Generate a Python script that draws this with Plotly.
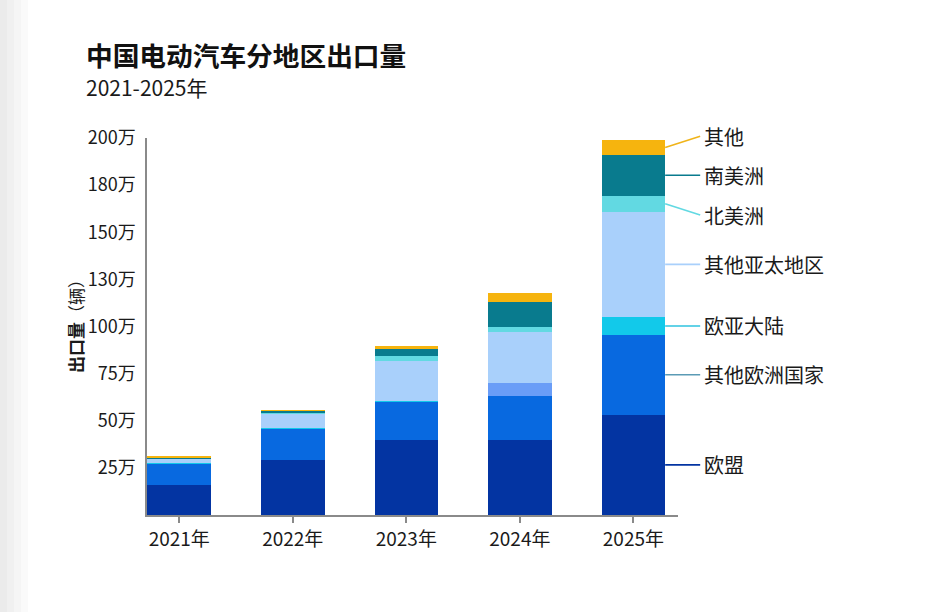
import plotly.graph_objects as go

# ---------------- data (单位：万辆) ----------------
years = ["2021年", "2022年", "2023年", "2024年", "2025年"]
eu = [16.0, 29.3, 40.0, 40.0, 53.2]
other_europe = [11.2, 16.6, 20.2, 23.2, 42.4]
eurasia = [0.3, 0.3, 0.5, 6.8, 9.4]
other_apac = [2.4, 7.8, 21.1, 26.9, 55.9]
north_america = [0.3, 0.5, 2.7, 3.0, 8.4]
south_america = [0.3, 0.8, 3.7, 13.3, 21.8]
others = [0.5, 0.4, 1.2, 4.6, 7.6]

series_names = ["欧盟", "其他欧洲国家", "欧亚大陆", "其他亚太地区", "北美洲", "南美洲", "其他"]
series_values = [eu, other_europe, eurasia, other_apac, north_america, south_america, others]
series_colors = [
    "#0334a2",
    "#0869e0",
    ["#12c9ea", "#12c9ea", "#12c9ea", "#6a9df7", "#12c9ea"],
    "#a9d0fb",
    "#62d9e2",
    "#097b8e",
    "#f6b40e",
]
line_colors = ["#0334a2", "#5b9bb5", "#2fc3df", "#a9d0fb", "#62d9e2", "#097b8e", "#f0b41a"]
label_shift = [0, 0, 0, 0, -6.0, 0, 6.0]   # 万, nudges to avoid overlap

tick_vals = [25, 50, 75, 100, 125, 150, 175, 200]
tick_text = ["25万", "50万", "75万", "100万", "130万", "150万", "180万", "200万"]

# ---------------- layout geometry ----------------
W, H = 950, 612
L, R, T, B = 147, 272, 138, 97
plot_w = W - L - R
plot_h = H - T - B
x_range = [-0.284, 4.393]
y_range = [0, 200]
bargap = 0.44

FONT = "Noto Sans CJK SC, Noto Sans, sans-serif"


def px_x(px):
    return (px - L) / plot_w


def px_y(py):
    return (H - B - py) / plot_h


def data_x_to_paper(xv):
    return (xv - x_range[0]) / (x_range[1] - x_range[0])


def data_y_to_paper(yv):
    return (yv - y_range[0]) / (y_range[1] - y_range[0])


fig = go.Figure()
for name, vals, col in zip(series_names, series_values, series_colors):
    fig.add_trace(go.Bar(
        x=years, y=vals, name=name,
        marker=dict(color=col, line=dict(width=0)),
        hoverinfo="x+y+name",
    ))

shapes = []
annotations = []

# faint grey band at the left edge
for i, c in enumerate(["#ebebeb", "#f0f0f0", "#f5f5f5", "#fafafa"]):
    shapes.append(dict(type="rect", xref="paper", yref="paper",
                       x0=px_x(i * 7), x1=px_x(i * 7 + 7), y0=px_y(H), y1=px_y(0),
                       fillcolor=c, line=dict(width=0), layer="below"))

# right-side labels attached to the last bar
last = len(years) - 1
bar_right = data_x_to_paper(last + (1 - bargap) / 2)
line_end = bar_right + 35 / plot_w
cum = 0.0
for name, vals, lc, sh in zip(series_names, series_values, line_colors, label_shift):
    mid = cum + vals[last] / 2
    cum += vals[last]
    y0 = data_y_to_paper(mid)
    y1 = data_y_to_paper(mid + sh)
    shapes.append(dict(type="line", xref="paper", yref="paper",
                       x0=bar_right, x1=line_end, y0=y0, y1=y1,
                       line=dict(color=lc, width=1.6)))
    annotations.append(dict(xref="paper", yref="paper", x=line_end + 2 / plot_w, y=y1,
                            text=name, showarrow=False, xanchor="left", yanchor="middle",
                            font=dict(family=FONT, size=20, color="#1a1a1a")))

# title & subtitle
annotations.append(dict(xref="paper", yref="paper", x=px_x(84), y=px_y(55),
                        text="<b>中国电动汽车分地区出口量</b>", showarrow=False,
                        xanchor="left", yanchor="middle",
                        font=dict(family=FONT, size=26.7, color="#111111")))
annotations.append(dict(xref="paper", yref="paper", x=px_x(84), y=px_y(87),
                        text="2021-2025年", showarrow=False,
                        xanchor="left", yanchor="middle",
                        font=dict(family=FONT, size=21, color="#1a1a1a")))
# y-axis title
annotations.append(dict(xref="paper", yref="paper", x=px_x(75), y=px_y(322),
                        text="<b>出口量</b>（辆）", showarrow=False, textangle=-90,
                        xanchor="center", yanchor="middle",
                        font=dict(family=FONT, size=17, color="#1a1a1a")))

fig.update_layout(
    barmode="stack",
    bargap=bargap,
    width=W, height=H,
    margin=dict(l=L, r=R, t=T, b=B, pad=0),
    paper_bgcolor="white",
    plot_bgcolor="white",
    showlegend=False,
    font=dict(family=FONT, size=16, color="#1a1a1a"),
    shapes=shapes,
    annotations=annotations,
    xaxis=dict(
        range=x_range, showgrid=False, zeroline=False,
        showline=True, linecolor="#8a8a8a", linewidth=2,
        ticks="outside", ticklen=6, tickcolor="#8a8a8a", tickwidth=1.5,
        tickfont=dict(family=FONT, size=19, color="#1a1a1a"),
        fixedrange=True,
    ),
    yaxis=dict(
        range=y_range, showgrid=False, zeroline=False,
        showline=True, linecolor="#8a8a8a", linewidth=1.5,
        tickvals=tick_vals, ticktext=tick_text, ticks="",
        ticklabelstandoff=6,
        tickfont=dict(family=FONT, size=18, color="#1a1a1a"),
        fixedrange=True,
    ),
)

fig.write_html("out.html")
